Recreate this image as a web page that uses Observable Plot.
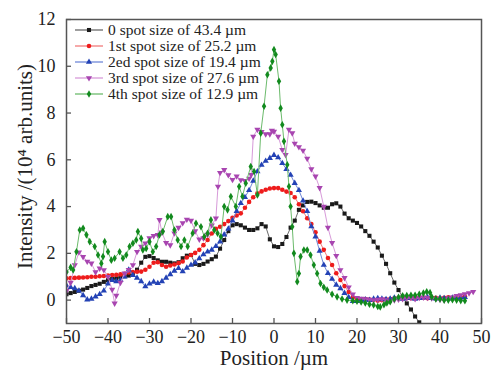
<!DOCTYPE html>
<html><head><meta charset="utf-8">
<script src="https://cdn.jsdelivr.net/npm/d3@7"></script>
<script src="https://cdn.jsdelivr.net/npm/@observablehq/plot@0.6"></script>
<style>
body{margin:0;background:#fff;}
#wrap{position:relative;width:493px;height:370px;}
#legend{position:absolute;left:74px;top:22px;font-family:'Liberation Serif',serif;font-size:15.5px;color:#222;}
.row{display:flex;align-items:center;height:16px;white-space:nowrap;}
.row svg{margin-right:4px;}
</style></head><body><div id="wrap"><div id="legend"></div></div>
<script>
const seriesNames = ["0 spot size of 43.4 µm","1st spot size of 25.2 µm","2ed spot size of 19.4 µm","3rd spot size of 27.6 µm","4th spot size of 12.9 µm"];
const xTicks = [-50,-40,-30,-20,-10,0,10,20,30,40,50];
const yTicks = [0,2,4,6,8,10,12];
const xLabel = "Position /µm";
const yLabel = "Intensity /(10⁴ arb.units)";

const spot0 = [[-50,.25],[-49,.3],[-48,.35],[-47,.4],[-46,.45],[-45,.52],[-44,.6],[-43,.65],[-42,.7],[-41,.78],[-40,.85],[-39,.9],[-38,.93],[-37,.98],[-36,1.02],[-35,1.05],[-34,1.15],[-33,1.3],[-32,1.6],[-31,1.85],[-30,1.88],[-29,1.8],[-28,1.7],[-27,1.64],[-26,1.64],[-25,1.6],[-24,1.57],[-23,1.62],[-22,1.79],[-21,1.9],[-20,1.93],[-19,1.55],[-18,1.5],[-17,1.55],[-16,1.65],[-15,1.75],[-14,1.86],[-13,2.2],[-12,2.57],[-11,2.95],[-10,3.2],[-9,3.25],[-8,3.2],[-7,3.1],[-6,3.0],[-5,3.0],[-4,3.07],[-3,3.25],[-2,3.15],[-1,2.6],[0,2.3],[1,2.27],[2,2.4],[3,2.7],[4,3.1],[5,3.4],[6,3.86],[7,4.05],[8,4.2],[9,4.21],[10,4.15],[11,4.05],[12,3.95],[13,3.95],[14,4.1],[15,4.14],[16,4.0],[17,3.7],[18,3.5],[19,3.4],[20,3.3],[21,3.15],[22,2.95],[23,2.75],[24,2.5],[25,2.25],[26,1.9],[27,1.55],[28,1.15],[29,.75],[30,.43],[31,.15],[32,-.14],[33,-.4],[34,-.7],[35,-.95]];
const spot1 = [[-50,.93],[-49,.94],[-48,.95],[-47,.96],[-46,.97],[-45,.98],[-44,1.0],[-43,1.0],[-42,1.02],[-41,1.03],[-40,1.05],[-39,1.07],[-38,1.08],[-37,1.1],[-36,1.12],[-35,1.18],[-34,1.2],[-33,1.21],[-32,1.22],[-31,1.3],[-30,1.43],[-29,1.6],[-28,1.62],[-27,1.5],[-26,1.43],[-25,1.48],[-24,1.52],[-23,1.58],[-22,1.65],[-21,1.82],[-20,1.93],[-19,2.02],[-18,2.15],[-17,2.35],[-16,2.57],[-15,2.85],[-14,3.05],[-13,3.14],[-12,3.25],[-11,3.38],[-10,3.52],[-9,3.62],[-8,3.71],[-7,3.95],[-6,4.2],[-5,4.4],[-4,4.57],[-3,4.65],[-2,4.72],[-1,4.77],[0,4.79],[1,4.79],[2,4.72],[3,4.64],[4,4.58],[5,4.4],[6,4.1],[7,3.8],[8,3.5],[9,3.25],[10,2.9],[11,2.5],[12,2.15],[13,1.8],[14,1.5],[15,1.15],[16,.86],[17,.6],[18,.35],[19,.12],[20,.05],[21,.03],[22,.05],[23,.02],[24,0],[25,-.02],[26,0],[27,.03],[28,.05],[29,.08],[30,.1],[31,.12],[32,.1],[33,.08],[34,.1],[35,.12],[36,.1],[37,.08],[38,.1],[39,.1],[40,.08],[41,.1],[42,.12],[43,.1],[44,.1],[45,.12],[46,.15]];
const spot2 = [[-50,.62],[-49,.55],[-48,.5],[-47,.4],[-46,.2],[-45,.02],[-44,.05],[-43,.15],[-42,.25],[-41,.4],[-40,.7],[-39,.85],[-38,.8],[-37,.85],[-36,1.0],[-35,1.3],[-34,1.07],[-33,.95],[-32,.8],[-31,.58],[-30,.7],[-29,.78],[-28,.72],[-27,.8],[-26,.95],[-25,1.1],[-24,1.25],[-23,1.36],[-22,1.22],[-21,1.38],[-20,1.5],[-19,1.6],[-18,1.78],[-17,1.95],[-16,2.07],[-15,2.15],[-14,2.3],[-13,2.5],[-12,2.8],[-11,3.05],[-10,3.4],[-9,3.8],[-8,4.14],[-7,4.4],[-6,4.7],[-5,5.1],[-4,5.5],[-3,5.78],[-2,5.95],[-1,6.07],[0,6.2],[1,6.1],[2,5.85],[3,5.6],[4,5.35],[5,5.0],[6,4.7],[7,4.25],[8,3.8],[9,3.15],[10,2.71],[11,2.1],[12,1.5],[13,1.15],[14,.9],[15,.65],[16,.5],[17,.3],[18,.12],[19,-.05],[20,-.05],[21,0],[22,.02],[23,0],[24,.05],[25,.08],[26,.05],[27,.03],[28,.05],[29,.1],[30,.08],[31,.05],[32,.08],[33,.1],[34,.05],[35,.08],[36,.1],[37,.12],[38,.08],[39,.06],[40,.1],[41,.08],[42,.06],[43,.1],[44,.08],[45,.1],[46,.12]];
const spot3 = [[-50,.4],[-49,.75],[-48,1.5],[-47,2.05],[-46,1.85],[-45,1.65],[-44,1.57],[-43,1.2],[-42,1.36],[-41,1.29],[-40,1.0],[-39,.45],[-38.4,-.14],[-38,.2],[-37,.75],[-36,1.15],[-35,1.3],[-34,1.5],[-33,2.07],[-32,2.29],[-31,2.43],[-30,2.65],[-29,2.75],[-28,2.79],[-27.6,3.43],[-27,2.9],[-26,2.45],[-25,2.35],[-24,2.86],[-23,3.1],[-22,3.3],[-21,3.45],[-20,3.4],[-19,2.95],[-18,2.6],[-17,2.65],[-16,2.8],[-15,3.2],[-14,3.5],[-13.5,4.86],[-13,5.45],[-12,5.57],[-11,5.35],[-10,5.15],[-9,5.3],[-8,5.14],[-7,5.1],[-6,5.2],[-5.5,5.36],[-5,7.0],[-4,7.29],[-3,7.2],[-2,7.1],[-1,7.1],[-.5,7.25],[0,7.21],[1,7.0],[2,6.43],[2.8,6.21],[3.6,7.29],[4.4,7.14],[5,6.7],[6,6.55],[7,6.4],[8,6.05],[9,5.6],[10,5.29],[11,4.8],[12,4.0],[13,3.1],[14,2.45],[15,1.9],[16,1.29],[17,.95],[18,.55],[19,.25],[20,.1],[21,.07],[22,.05],[23,.02],[24,0],[25,.02],[26,.05],[27,0],[28,-.05],[29,0],[30,.03],[31,.05],[32,.08],[33,.1],[34,.05],[35,.1],[36,.12],[37,.1],[38,.08],[39,.05],[40,.02],[41,0],[42,.08],[43,.12],[44,.18],[45,.22],[46,.26],[47,.3],[48,.36]];
const spot4 = [[-50,1.2],[-49,1.4],[-48.4,1.29],[-47.6,2.07],[-46.8,3.0],[-46,3.07],[-45.2,2.79],[-44.4,2.5],[-43.2,2.29],[-42.4,1.93],[-41.6,1.57],[-41.2,1.86],[-40.8,2.5],[-40,2.07],[-39.2,1.71],[-38.4,1.79],[-37.2,2.07],[-36.4,1.79],[-35.6,1.93],[-34.8,2.29],[-34,2.43],[-33.2,2.57],[-32.8,2.93],[-32,2.64],[-31.6,2.14],[-30.8,2.21],[-30,2.5],[-29.2,2.07],[-28.4,2.29],[-27.6,2.79],[-26.8,2.93],[-25.6,3.57],[-24.8,3.57],[-24,3.0],[-23.2,2.57],[-22.4,2.29],[-21.6,2.57],[-20.8,2.29],[-19.6,2.86],[-18.8,3.29],[-17.6,3.14],[-16.8,2.71],[-16,2.86],[-15.2,3.43],[-14.4,3.0],[-13.6,2.86],[-12.8,2.71],[-12,4.0],[-11.2,3.86],[-10.4,4.43],[-9.2,4.0],[-8.4,4.86],[-7.6,4.43],[-6.8,5.0],[-5.6,5.71],[-4.8,5.5],[-4,4.5],[-3.2,7.14],[-2.4,8.29],[-1.6,9.64],[-.8,9.93],[-.4,10.21],[0,10.71],[.4,10.5],[1.2,9.36],[1.6,8.21],[2,7.5],[2.4,6.79],[3.2,5.79],[3.6,4.86],[4,4.0],[4.4,3.14],[4.8,2.0],[5.6,.79],[6,1.14],[6.4,1.86],[7.2,2.14],[8,2.14],[8.8,1.93],[9.6,1.5],[10.4,1.14],[11.2,.71],[12,.55],[12.8,.43],[14,.25],[15.2,.14],[16.4,.05],[17.6,0],[19,-.03],[20,-.05],[21,-.08],[22,-.12],[23,-.18],[24,-.21],[25,-.27],[25.6,-.29],[26.5,-.2],[27.2,-.12],[28,-.07],[29,.05],[30,.12],[31,.18],[32,.2],[33,.21],[34,.21],[35,.25],[36,.3],[36.8,.36],[37.6,.32],[38,.14],[39,.05],[40,.05],[41,0],[42,0],[43,.02],[44,0],[45,-.02],[46,-.03]];

const allSeries = [spot0, spot1, spot2, spot3, spot4];
const markerColors = ["#1a1a1a","#ee1c1c","#2342b5","#a845b0","#128a1e"];
const lineColors = ["#6a6a6a","#f27a7a","#7088d8","#d79ad9","#6cbb6c"];
const triangleDown = {draw(ctx, size){const y = -Math.sqrt(size/(3*Math.sqrt(3)));ctx.moveTo(0,-y*2);ctx.lineTo(-Math.sqrt(3)*y,y);ctx.lineTo(Math.sqrt(3)*y,y);ctx.closePath();}};
const symbols = [d3.symbolSquare, d3.symbolCircle, d3.symbolTriangle, triangleDown, d3.symbolDiamond];

const W = 493, H = 370, ML = 66, MR = 12, MT = 19, MB = 47, TICK = 5;

const marks = [];
allSeries.forEach((s, i) => {
  marks.push(Plot.line(s, {x: d => d[0], y: d => d[1], stroke: lineColors[i], strokeWidth: 1, clip: true}));
  marks.push(Plot.dot(s, {x: d => d[0], y: d => d[1], symbol: symbols[i], fill: markerColors[i], stroke: "none", r: 2.3, clip: true}));
});

const chart = Plot.plot({
  width: W, height: H,
  marginLeft: ML, marginRight: MR, marginTop: MT, marginBottom: MB,
  style: {fontFamily: "'Liberation Serif', serif", background: "white", color: "#222"},
  x: {domain: [-50, 50]},
  y: {domain: [-1, 12]},
  marks: [
    ...marks,
    Plot.tickX(xTicks, {x: d => d, stroke: "#555", strokeWidth: 1.3, insetTop: H - MT - MB - TICK}),
    Plot.tickY(yTicks, {y: d => d, stroke: "#555", strokeWidth: 1.3, insetRight: W - ML - MR - TICK}),
    Plot.frame({stroke: "#555", strokeWidth: 1.5}),
    Plot.axisX({ticks: xTicks, tickSize: 0, tickPadding: 7, fontSize: 18, label: null}),
    Plot.axisY({ticks: yTicks, tickSize: 0, tickPadding: 11, fontSize: 18, label: null}),
    Plot.text([xLabel], {text: d => d, frameAnchor: "bottom", dy: 35, fontSize: 21, lineAnchor: "middle", textAnchor: "middle", fill: "#222"}),
    Plot.text([yLabel], {text: d => d, frameAnchor: "left", rotate: -90, dx: -41, dy: -5, fontSize: 21, textAnchor: "middle", lineAnchor: "middle", fill: "#222"})
  ]
});
document.getElementById("wrap").prepend(chart);

const legend = d3.select("#legend");
seriesNames.forEach((name, i) => {
  const row = legend.append("div").attr("class", "row");
  const svg = row.append("svg").attr("width", 30).attr("height", 16);
  svg.append("line").attr("x1", 1).attr("x2", 29).attr("y1", 8).attr("y2", 8).attr("stroke", lineColors[i]).attr("stroke-width", 1.3);
  svg.append("path").attr("transform", "translate(15,8)").attr("d", d3.symbol(symbols[i], Math.PI * 2.3 * 2.3)()).attr("fill", markerColors[i]);
  row.append("span").text(name);
});
</script>
</body></html>
